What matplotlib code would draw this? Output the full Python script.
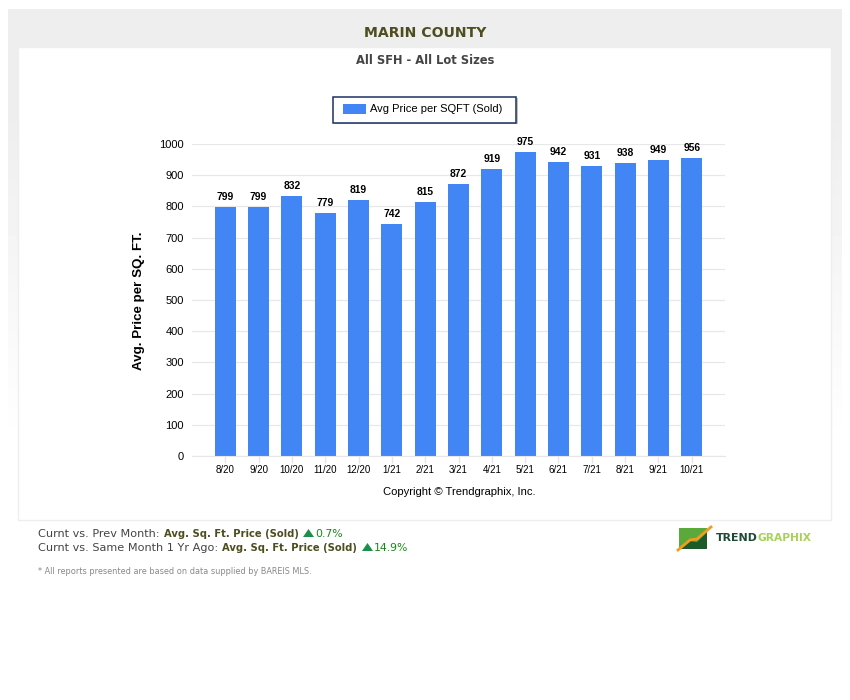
import matplotlib
matplotlib.use("Agg")
import matplotlib.pyplot as plt
import numpy as np
from matplotlib.patches import Rectangle, Polygon

months = ["8/20","9/20","10/20","11/20","12/20","1/21","2/21","3/21","4/21","5/21","6/21","7/21","8/21","9/21","10/21"]
prices = [799,799,832,779,819,742,815,872,919,975,942,931,938,949,956]
yticks = [0,100,200,300,400,500,600,700,800,900,1000]
BLUE = "#4285f4"
OLIVE = "#4d4d1f"

W, H = 850, 700
fig = plt.figure(figsize=(W/100, H/100), dpi=100, facecolor="white")

bg = fig.add_axes([0, 0, 1, 1], zorder=0)
bg.set_xlim(0, W); bg.set_ylim(H, 0); bg.axis("off")
# vertical fade of the grey panel
fade = np.clip((445 - np.arange(9, 446)) / (445 - 120), 0, 1)
grey = (255 - 17 * fade)[:, None]
bg.imshow(grey, extent=(8, 842, 446, 9), cmap="gray", vmin=0, vmax=255, aspect="auto", zorder=0)
bg.set_xlim(0, W); bg.set_ylim(H, 0)
bg.add_patch(Rectangle((18.5, 46.5), 813, 473.5, fc="white", ec="#eeeeee", lw=1, zorder=1))

V = "DejaVu Sans"
L = "Liberation Sans"
bg.text(425, 33, "MARIN COUNTY", ha="center", va="center", family=V, weight="bold", fontsize=10.1, color=OLIVE)
bg.text(425.5, 60, "All SFH - All Lot Sizes", ha="center", va="center", family=V, weight="bold", fontsize=8.3, color="#444444")

# legend box
bg.add_patch(Rectangle((335, 98), 183, 26, fc="#999999", ec="none", alpha=.6, zorder=2))
bg.add_patch(Rectangle((333.5, 96.5), 183, 26, fc="white", ec="#1a3263", lw=1.1, zorder=2))
bg.add_patch(Rectangle((343, 104), 23, 10, fc=BLUE, ec="none", zorder=3))
bg.text(370, 109, "Avg Price per SQFT (Sold)", ha="left", va="center", family=L, fontsize=8.0, color="black", zorder=3)

# chart
x0, x1, ytop, ybot = 192, 725, 144, 456
ax = fig.add_axes([x0/W, 1-ybot/H, (x1-x0)/W, (ybot-ytop)/H], zorder=1)
ax.patch.set_alpha(0)
pos = list(range(len(months)))
ax.bar(pos, prices, width=0.63, color=BLUE, zorder=2)
ax.set_xlim(-1, len(months))
ax.set_ylim(0, 1000)
ax.set_yticks(yticks)
ax.set_xticks(pos)
ax.set_xticklabels(months, family=L, fontsize=7.0)
ax.tick_params(axis="x", length=5, width=1, color="#e6e6e6", pad=1.5, labelcolor="black")
ax.tick_params(axis="y", length=0, pad=6, labelsize=8.0, labelcolor="black")
for t in ax.get_yticklabels():
    t.set_family(L)
ax.grid(axis="y", color="#e8e8e8", lw=0.9, zorder=0)
ax.set_axisbelow(True)
for s in ["top", "right", "left"]:
    ax.spines[s].set_visible(False)
ax.spines["bottom"].set_color("#e6e6e6")
for p, v in zip(pos, prices):
    ax.annotate(str(v), (p, v), xytext=(0, 3.6), textcoords="offset points", ha="center", va="bottom",
                family=L, weight="bold", fontsize=7.4, color="black")
bg.text(139, 300.5, "Avg. Price per SQ. FT.", rotation=90, ha="center", va="center", family=L, weight="bold", fontsize=9.6, color="black")
bg.text(459, 492, "Copyright © Trendgraphix, Inc.", ha="center", va="center", family=L, fontsize=8.15, color="black")

# footer text
r = fig.canvas.get_renderer()
def run(x, y, parts):
    for s, w, c, fs in parts:
        t = bg.text(x, y, s, ha="left", va="center", family=V, weight=w, fontsize=fs, color=c)
        x += t.get_window_extent(r).width + 4
    return x

def tri(x, y):
    bg.add_patch(Polygon([(x, y+4), (x+11, y+4), (x+5.5, y-4)], fc="#1c8f4a", ec="none"))

G = "#444444"
run(38, 534, [("Curnt vs. Prev Month:", "normal", G, 8.1), ("Avg. Sq. Ft. Price (Sold)", "bold", OLIVE, 7.2)])
tri(303, 533)
bg.text(315, 534, "0.7%", ha="left", va="center", family=V, fontsize=7.8, color="#168a16")
run(38, 548, [("Curnt vs. Same Month 1 Yr Ago:", "normal", G, 8.1), ("Avg. Sq. Ft. Price (Sold)", "bold", OLIVE, 7.2)])
tri(362, 547)
bg.text(374, 548, "14.9%", ha="left", va="center", family=V, fontsize=7.8, color="#168a16")
bg.text(38, 571, "* All reports presented are based on data supplied by BAREIS MLS.", ha="left", va="center", family=V, fontsize=5.87, color="#888888")

# logo
bg.add_patch(Rectangle((679, 528), 28, 21, fc="#5aa93a", ec="none"))
bg.add_patch(Polygon([(679, 549), (690, 541), (697, 542), (707, 532), (707, 549)], fc="#1c5a2a", ec="none"))
bg.plot([678, 690, 697, 711], [550, 540, 539, 527], color="#f59a1c", lw=2)
t = bg.text(716, 538, "TREND", ha="left", va="center", family=V, weight="bold", fontsize=7.9, color="#1d4a35")
bg.text(716 + t.get_window_extent(r).width, 538, "GRAPHIX", ha="left", va="center", family=V, weight="bold", fontsize=7.7, color="#a9d05a")

fig.savefig("out.png", dpi=100, facecolor="white")
